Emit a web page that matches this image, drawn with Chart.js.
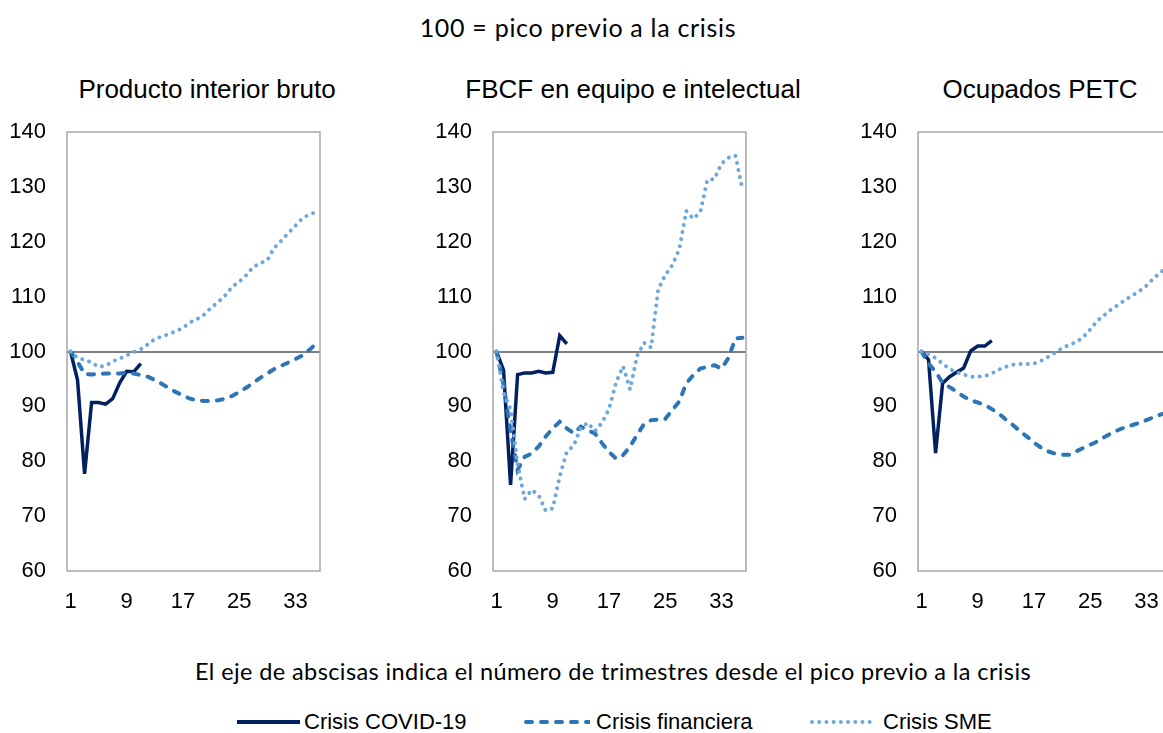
<!DOCTYPE html>
<html>
<head>
<meta charset="utf-8">
<script src="https://cdn.jsdelivr.net/npm/chart.js@4.4.1/dist/chart.umd.min.js"></script>
<style>
html,body{margin:0;padding:0;background:#fff;}
body{width:1163px;height:733px;overflow:hidden;position:relative;}
.t{position:absolute;white-space:nowrap;color:#000;text-align:center;}
.arial{font-family:"Liberation Sans",Arial,sans-serif;}
.cal{font-family:Lato,"Open Sans",sans-serif;}
canvas{position:absolute;top:110px;}
.sw{position:absolute;}
</style>
</head>
<body>
<div class="t cal" style="left:278px;width:600px;top:12px;font-size:25px;letter-spacing:0.7px;line-height:30px;">100 = pico previo a la crisis</div>

<div class="t arial" style="left:-93px;width:600px;top:74px;font-size:26px;line-height:30px;">Producto interior bruto</div>
<div class="t arial" style="left:333px;width:600px;top:74px;font-size:26px;line-height:30px;">FBCF en equipo e intelectual</div>
<div class="t arial" style="left:740px;width:600px;top:74px;font-size:26px;line-height:30px;">Ocupados PETC</div>

<canvas id="c1" width="330" height="530" style="left:0px"></canvas>
<canvas id="c2" width="330" height="530" style="left:426px"></canvas>
<canvas id="c3" width="330" height="530" style="left:851px"></canvas>

<div class="t cal" style="left:113px;width:1000px;top:656px;font-size:23.5px;letter-spacing:0.4px;line-height:30px;">El eje de abscisas indica el número de trimestres desde el pico previo a la crisis</div>

<svg class="sw" style="left:237px;top:712px" width="63" height="20"><line x1="0" y1="10" x2="63" y2="10" stroke="#002060" stroke-width="4"/></svg>
<div class="t arial" style="left:304px;top:707px;font-size:22px;line-height:30px;text-align:left;">Crisis COVID-19</div>
<svg class="sw" style="left:523px;top:712px" width="67" height="20"><line x1="3" y1="10" x2="66" y2="10" stroke="#2E75B6" stroke-width="4" stroke-dasharray="6 9" stroke-linecap="round"/></svg>
<div class="t arial" style="left:596px;top:707px;font-size:22px;line-height:30px;text-align:left;">Crisis financiera</div>
<svg class="sw" style="left:810px;top:712px" width="67" height="20"><line x1="2" y1="10" x2="66" y2="10" stroke="#6FA7DD" stroke-width="4" stroke-dasharray="0.01 7.2" stroke-linecap="round"/></svg>
<div class="t arial" style="left:883px;top:707px;font-size:22px;line-height:30px;text-align:left;">Crisis SME</div>

<script>
// Quarters since pre-crisis peak (categories)
const quarters = ['1','2','3','4','5','6','7','8','9','10','11','12','13','14','15','16','17','18',
  '19','20','21','22','23','24','25','26','27','28','29','30','31','32','33','34','35','36'];
const shownTicks = ['1','9','17','25','33'];
const yTicks = [60, 70, 80, 90, 100, 110, 120, 130, 140];

// Producto interior bruto
const pibCovid = [100, 94.8, 77.7, 90.7, 90.7, 90.4, 91.4, 94.3, 96.4, 96.3, 97.8];
const pibFin = [100, 98.1, 95.9, 95.8, 95.9, 96.0, 96.0, 96.0, 96.1, 96.0, 95.7, 95.4, 94.8, 94.1, 93.3, 92.6,
  92.0, 91.4, 91.1, 91.0, 91.0, 91.1, 91.4, 91.9, 92.6, 93.4, 94.3, 95.2, 96.0, 96.8, 97.4, 98.0, 98.6, 99.3, 100.3, 101.5];
const pibSme = [100, 98.8, 98.5, 98.0, 97.2, 97.4, 98.2, 98.7, 99.3, 99.9, 100.4, 101.3, 102.3, 102.7, 103.2, 103.7,
  104.3, 105.3, 105.9, 106.7, 108.0, 109.0, 110.2, 111.8, 112.7, 113.9, 115.4, 116.1, 116.6, 118.9, 120.2, 121.6, 122.9, 124.3, 125.0, 125.4];

// FBCF en equipo e intelectual
const fbcfCovid = [100, 96.6, 75.7, 95.8, 96.1, 96.1, 96.4, 96.1, 96.2, 102.9, 101.4];
const fbcfFin = [100, 94.0, 85.5, 78.4, 80.8, 81.4, 82.7, 84.5, 86.0, 87.2, 86.0, 85.1, 86.3, 85.6, 85.1, 83.3,
  81.7, 80.5, 81.1, 82.7, 84.8, 86.8, 87.5, 87.6, 87.7, 89.3, 90.9, 94.2, 95.7, 96.9, 97.2, 97.5, 96.9, 98.8, 102.4, 102.5];
const fbcfSme = [100, 92.5, 89.5, 79.5, 73.1, 74.8, 73.8, 71.0, 71.4, 77.3, 81.7, 82.9, 86.1, 87.0, 85.5, 87.0,
  89.5, 94.3, 97.3, 93.1, 99.2, 101.6, 100.7, 111.3, 113.9, 115.7, 118.6, 125.6, 124.2, 125.4, 131.3, 131.4, 134.2, 135.3, 135.7, 129.6];

// Ocupados PETC
const empCovid = [100, 98.5, 81.5, 94.2, 95.4, 96.2, 97.0, 100.1, 101.0, 101.0, 102.0];
const empFin = [100, 97.8, 96.3, 94.3, 93.5, 92.7, 91.8, 91.1, 90.7, 90.3, 89.5, 88.7, 87.6, 86.6, 85.5, 84.5,
  83.4, 82.5, 81.8, 81.4, 81.2, 81.2, 81.8, 82.4, 83.0, 83.6, 84.4, 85.1, 85.7, 86.2, 86.6, 87.0, 87.5, 88.0, 88.5, 88.9];
const empSme = [100, 99.5, 98.8, 97.8, 96.8, 96.2, 95.8, 95.4, 95.4, 95.5, 96.0, 96.7, 97.2, 97.6, 97.7, 97.7,
  97.8, 98.3, 99.0, 99.8, 100.6, 101.2, 101.7, 102.6, 104.0, 105.6, 106.6, 107.7, 108.5, 109.4, 110.2, 111.0, 112.0, 113.3, 114.4, 115.5];

const seriesNames = ['Crisis COVID-19', 'Crisis financiera', 'Crisis SME'];
const refValue = 100;

Chart.defaults.font.family = '"Liberation Sans", Arial, sans-serif';
Chart.defaults.color = '#000';

const framePlugin = {
  id: 'frame',
  beforeDatasetsDraw(chart) {
    const {ctx, chartArea: a} = chart;
    ctx.save();
    ctx.strokeStyle = '#A6A6A6';
    ctx.lineWidth = 1.5;
    ctx.strokeRect(a.left, a.top, a.right - a.left, a.bottom - a.top);
    ctx.restore();
  }
};

function makeChart(id, covid, fin, sme) {
  return new Chart(document.getElementById(id), {
    type: 'line',
    data: {
      labels: quarters,
      datasets: [
        { label: seriesNames[2], data: sme, borderColor: '#6FA7DD', borderWidth: 4,
          borderDash: [0.01, 7.2], borderCapStyle: 'round', pointRadius: 0, tension: 0, fill: false },
        { label: seriesNames[1], data: fin, borderColor: '#2E75B6', borderWidth: 4,
          borderDash: [6, 9], borderCapStyle: 'round', pointRadius: 0, tension: 0, fill: false },
        { label: seriesNames[0], data: covid, borderColor: '#002060', borderWidth: 3.5,
          borderJoinStyle: 'miter', pointRadius: 0, tension: 0, fill: false }
      ]
    },
    options: {
      responsive: false,
      animation: false,
      devicePixelRatio: 1,
      layout: { padding: { top: 22, right: 10, left: 0, bottom: 0 } },
      plugins: { legend: { display: false }, title: { display: false }, tooltip: { enabled: false } },
      scales: {
        x: {
          type: 'category',
          offset: true,
          grid: { display: false, drawTicks: true, tickLength: 18 },
          border: { display: false },
          ticks: {
            autoSkip: false, maxRotation: 0, minRotation: 0, padding: 0,
            font: { size: 22 }, color: '#000',
            callback: function(v, i) { const l = quarters[i]; return shownTicks.includes(l) ? l : ''; }
          },
          afterFit: s => { s.height = 69; }
        },
        y: {
          min: yTicks[0], max: yTicks[yTicks.length - 1],
          afterBuildTicks: s => { s.ticks = yTicks.map(v => ({ value: v })); },
          grid: {
            drawTicks: true, tickLength: 21, tickColor: 'rgba(0,0,0,0)',
            color: c => (c.tick && c.tick.value === refValue) ? '#808080' : 'rgba(0,0,0,0)',
            lineWidth: c => (c.tick && c.tick.value === refValue) ? 2 : 0
          },
          border: { display: false },
          ticks: { padding: 0, font: { size: 22 }, color: '#000' },
          afterFit: s => { s.width = 67; }
        }
      }
    },
    plugins: [framePlugin]
  });
}

makeChart('c1', pibCovid, pibFin, pibSme);
makeChart('c2', fbcfCovid, fbcfFin, fbcfSme);
makeChart('c3', empCovid, empFin, empSme);
</script>
</body>
</html>
